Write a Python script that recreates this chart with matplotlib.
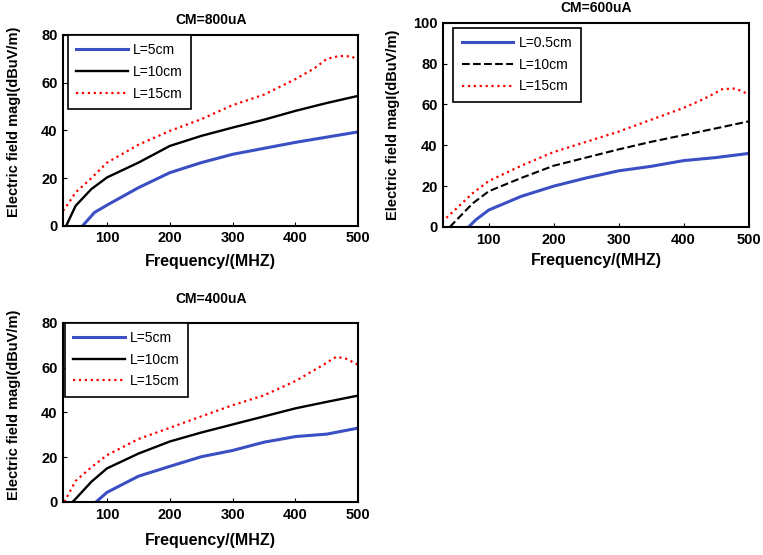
import matplotlib
matplotlib.use("Agg")
import matplotlib.pyplot as plt

plt.rcParams['font.family'] = ['Liberation Sans', 'DejaVu Sans']

# ---- CM=800uA ----
f800_5 = [61, 80, 100, 150, 200, 250, 300, 350, 400, 450, 500]
e800_5 = [0, 5.6, 8.7, 16, 22.3, 26.5, 30, 32.5, 35, 37.2, 39.4]
f800_10 = [35, 50, 75, 100, 150, 200, 250, 300, 350, 400, 450, 500]
e800_10 = [0, 8.4, 15.4, 20.3, 26.5, 33.5, 37.7, 41.2, 44.5, 48.2, 51.5, 54.5]
f800_15 = [30, 40, 50, 75, 100, 150, 200, 250, 300, 350, 400, 430, 450, 470, 490, 500]
e800_15 = [6.3, 10, 14, 20, 26.5, 34, 39.8, 44.7, 50.6, 55, 61.5, 66, 70, 71.2, 71, 69]

# ---- CM=600uA ----
f600_05 = [69, 80, 100, 150, 200, 250, 300, 350, 400, 450, 500]
e600_05 = [0, 3.5, 8.3, 15, 20, 24, 27.5, 29.7, 32.5, 34, 36]
f600_10 = [40, 50, 75, 100, 150, 200, 250, 300, 350, 400, 450, 500]
e600_10 = [0, 3.3, 11.5, 17.5, 24, 30, 34, 38, 41.7, 45, 48.3, 51.7]
f600_15 = [28, 50, 75, 100, 150, 200, 250, 300, 350, 400, 430, 460, 480, 500]
e600_15 = [2.5, 9, 16.5, 22.5, 30, 36.7, 41.7, 46.7, 52.5, 58.3, 62.5, 67.5, 67.8, 65]

# ---- CM=400uA ----
f400_5 = [82.5, 100, 150, 200, 250, 300, 350, 400, 450, 500]
e400_5 = [0, 4.3, 11.5, 15.9, 20.2, 23, 26.7, 29.2, 30.3, 33]
f400_10 = [45, 50, 75, 100, 150, 200, 250, 300, 350, 400, 450, 500]
e400_10 = [0, 1.4, 9, 15, 21.6, 27, 31, 34.6, 38.2, 41.8, 44.7, 47.5]
f400_15 = [32, 50, 75, 100, 150, 200, 250, 300, 350, 400, 440, 465, 480, 500]
e400_15 = [0, 9.4, 15.5, 20.9, 28.1, 33.1, 38.2, 43.2, 47.6, 54, 60.5, 64.8, 64, 61.2]

xticks = [100, 200, 300, 400, 500]

fig = plt.figure(figsize=(7.63, 5.55), dpi=100)

def style(ax, title, ymax, yticks, tpad, xpad, ylab_y, leg_anchor):
    ax.set_xlim(30, 500)
    ax.set_ylim(0, ymax)
    ax.set_xticks(xticks)
    ax.set_yticks(yticks)
    ax.tick_params(direction='in', length=3, labelsize=10.5, pad=4)
    for lab in ax.get_xticklabels() + ax.get_yticklabels():
        lab.set_fontweight('bold')
    for s in ax.spines.values():
        s.set_linewidth(1.5)
    ax.set_title(title, fontsize=10, fontweight='bold', pad=tpad)
    ax.set_xlabel('Frequency/(MHZ)', fontsize=11.5, fontweight='bold', labelpad=xpad)
    ax.set_ylabel('Electric field magI(dBuV/m)', fontsize=10.5, fontweight='bold')
    ax.yaxis.set_label_coords(-0.142, ylab_y)
    leg = ax.legend(loc='upper left', bbox_to_anchor=leg_anchor, borderaxespad=0,
                    fontsize=10, handlelength=3.7, handletextpad=0.4, borderpad=0.6,
                    fancybox=False, edgecolor='black', framealpha=1, labelspacing=0.55)
    leg.get_frame().set_linewidth(1.2)

ax1 = fig.add_axes([0.0826, 0.593, 0.387, 0.344])
ax1.plot(f800_5, e800_5, color='#3a4fc4', lw=2.2, label='L=5cm')
ax1.plot(f800_10, e800_10, color='black', lw=1.7, label='L=10cm')
ax1.plot(f800_15, e800_15, color='red', lw=1.6, ls=':', label='L=15cm')
style(ax1, 'CM=800uA', 80, [0, 20, 40, 60, 80], 8, 6, 0.545, (0.017, 1.0))

ax2 = fig.add_axes([0.581, 0.591, 0.400, 0.368])
ax2.plot(f600_05, e600_05, color='#3a4fc4', lw=2.2, label='L=0.5cm')
ax2.plot(f600_10, e600_10, color='black', lw=1.5, ls='--', label='L=10cm')
ax2.plot(f600_15, e600_15, color='red', lw=1.6, ls=':', label='L=15cm')
style(ax2, 'CM=600uA', 100, [0, 20, 40, 60, 80, 100], 8, 5, 0.5, (0.033, 0.975))

ax3 = fig.add_axes([0.0826, 0.0955, 0.387, 0.323])
ax3.plot(f400_5, e400_5, color='#3a4fc4', lw=2.2, label='L=5cm')
ax3.plot(f400_10, e400_10, color='black', lw=1.7, label='L=10cm')
ax3.plot(f400_15, e400_15, color='red', lw=1.6, ls=':', label='L=15cm')
style(ax3, 'CM=400uA', 80, [0, 20, 40, 60, 80], 14, 8, 0.54, (0.007, 1.0))

fig.savefig('out.png', dpi=100)
